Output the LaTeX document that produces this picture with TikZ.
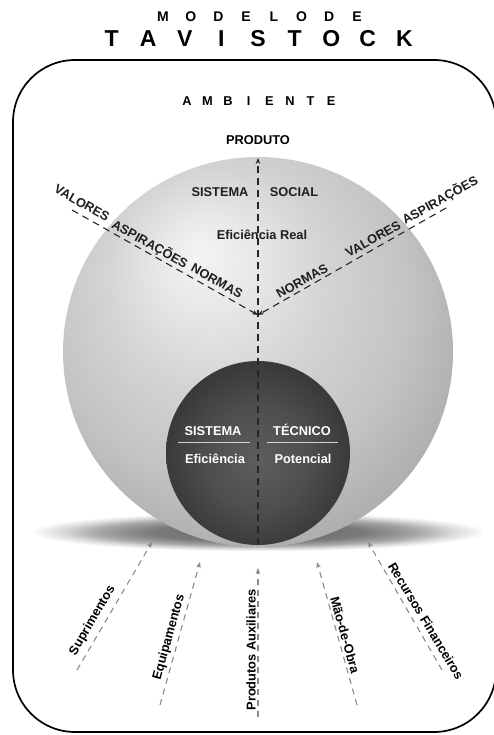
\documentclass[tikz,border=0pt]{standalone}
\usepackage{fontspec}
\setmainfont{Liberation Sans}
\usetikzlibrary{arrows.meta}

\definecolor{inktext}{HTML}{1E1E1E}
\definecolor{flowgray}{HTML}{8A8A8A}
\definecolor{ruleline}{HTML}{D0D0D0}

% shadings: 25bp is the half size of the shaded path

% light sphere: highlight towards the upper left
\definecolor{sA}{HTML}{F4F4F4}
\definecolor{sB}{HTML}{E8E8E8}
\definecolor{sC}{HTML}{D4D4D4}
\definecolor{sD}{HTML}{C4C4C4}
\definecolor{sE}{HTML}{A2A2A2}
\definecolor{sF}{HTML}{8E8E8E}
\pgfdeclareradialshading{socialball}{\pgfpoint{-7.5bp}{13bp}}{%
  color(0bp)=(sA); color(6bp)=(sB); color(14bp)=(sC);
  color(23bp)=(sD); color(35bp)=(sE); color(42.5bp)=(sF); color(50bp)=(sF)}

% dark sphere
\definecolor{tA}{HTML}{5E5E5E}
\definecolor{tB}{HTML}{4E4E4E}
\definecolor{tC}{HTML}{3A3A3A}
\pgfdeclareradialshading{techball}{\pgfpoint{0bp}{-2bp}}{%
  color(0bp)=(tA); color(14bp)=(tB); color(25bp)=(tC); color(50bp)=(tC)}

% soft floor shadow
\definecolor{shA}{HTML}{666666}
\definecolor{shB}{HTML}{7A7A7A}
\definecolor{shC}{HTML}{A8A8A8}
\definecolor{shD}{HTML}{DCDCDC}
\pgfdeclareradialshading{floorshadow}{\pgfpoint{0bp}{-2bp}}{%
  color(0bp)=(shA); color(12bp)=(shB); color(18bp)=(shC);
  color(22bp)=(shD); color(25.5bp)=(white); color(50bp)=(white)}

% evenly pitched capitals: \lsp{pitch}{LETTERS}
\newcommand\lsp[2]{\def\lsppitch{#1}\lspnext#2\relax}
\def\lspnext#1{\ifx#1\relax\else\makebox[\lsppitch][c]{#1}\expandafter\lspnext\fi}

\begin{document}
\begin{tikzpicture}[x=1pt,y=-1pt,
  lbl/.style={font=\bfseries\fontsize{12.8}{13}\selectfont, text=inktext,
    inner sep=0pt, text height=9pt, text depth=0pt},
  wlbl/.style={lbl, text=white},
  inkdash/.style={line width=1.1pt, dash pattern=on 7pt off 5pt, draw=black!85},
  flowdash/.style={line width=1.1pt, dash pattern=on 6pt off 5pt, draw=flowgray},
  tip/.style={-{Stealth[length=6pt,width=4.6pt]}}]
\useasboundingbox (0,0) rectangle (494,735);

% title
\node[font=\bfseries\fontsize{14}{14}\selectfont, inner sep=0pt] (title1) at (260,17)
  {\lsp{27.7pt}{MODELO DE}};
\node[font=\bfseries\fontsize{23}{23}\selectfont, inner sep=0pt] (title2) at (258,39)
  {\lsp{36.6pt}{TAVISTOCK}};

% environment frame
\draw[line width=1.7pt, rounded corners=62pt] (13,60) rectangle (496,732);
\node[lbl, text=black] (ambiente) at (259,101) {\lsp{20.6pt}{AMBIENTE}};

% shadow and spheres
\shade[shading=floorshadow] (34,512) rectangle (482,550);
\node[circle, minimum size=390pt, inner sep=0pt, shade, shading=socialball] (social) at (258,352) {};
\node[circle, minimum size=184pt, inner sep=0pt, shade, shading=techball] (tecnico) at (258,453) {};

% connector end points
\coordinate (top)  at (258,158);
\coordinate (base) at (258,545);
\coordinate (meet) at (258,315);
\coordinate (lend) at (72,210);
\coordinate (rend) at (446,208);

\draw[inkdash, tip] (base) -- (top);
\draw[inkdash, tip] (lend) -- (meet);
\draw[inkdash, tip] (rend) -- (meet);

\node[lbl, text=black] (produto) at (258,140) {PRODUTO};

% social system
\node[lbl] (sis1) at (220,192) {SISTEMA};
\node[lbl] (soc)  at (294,192) {SOCIAL};
\node[lbl] (efreal) at (262,235) {Eficiência Real};

\node[lbl, rotate=-29.5] (valL) at (82,203) {VALORES};
\node[lbl, rotate=-29.5] (aspL) at (150,244) {ASPIRAÇÕES};
\node[lbl, rotate=-29.5] (norL) at (217,281) {NORMAS};
\node[lbl, rotate=29.5] (norR) at (302,281) {NORMAS};
\node[lbl, rotate=29.5] (valR) at (373,239) {VALORES};
\node[lbl, rotate=29.5] (aspR) at (440,200) {ASPIRAÇÕES};

% technical system
\node[wlbl] (sis2) at (213,431) {SISTEMA};
\node[wlbl] (tec)  at (302,431) {TÉCNICO};
\draw[ruleline, line width=0.8pt] (178,442) -- (250,442);
\draw[ruleline, line width=0.8pt] (267,442) -- (338,442);
\node[wlbl] (ef) at (215,459) {Eficiência};
\node[wlbl] (pot) at (303,459) {Potencial};

% inputs from the environment
\coordinate (s1tip) at (152,542); \coordinate (s1end) at (77,670);
\coordinate (s2tip) at (200,562); \coordinate (s2end) at (160,705);
\coordinate (s3tip) at (258,568); \coordinate (s3end) at (258,717);
\coordinate (s4tip) at (317,562); \coordinate (s4end) at (357,705);
\coordinate (s5tip) at (368,542); \coordinate (s5end) at (442,670);
\draw[flowdash, tip] (s1end) -- (s1tip);
\draw[flowdash, tip] (s2end) -- (s2tip);
\draw[flowdash, tip] (s3end) -- (s3tip);
\draw[flowdash, tip] (s4end) -- (s4tip);
\draw[flowdash, tip] (s5end) -- (s5tip);

\node[lbl, text=black, rotate=59.6]  (sup) at (91.5,620) {Suprimentos};
\node[lbl, text=black, rotate=74.4]  (equ) at (168,637) {Equipamentos};
\node[lbl, text=black, rotate=90]    (pro) at (251,650) {Produtos Auxiliares};
\node[lbl, text=black, rotate=-74.4] (mao) at (345,635) {Mão-de-Obra};
\node[lbl, text=black, rotate=-59]   (rec) at (426,621) {Recursos Financeiros};
\end{tikzpicture}
\end{document}
